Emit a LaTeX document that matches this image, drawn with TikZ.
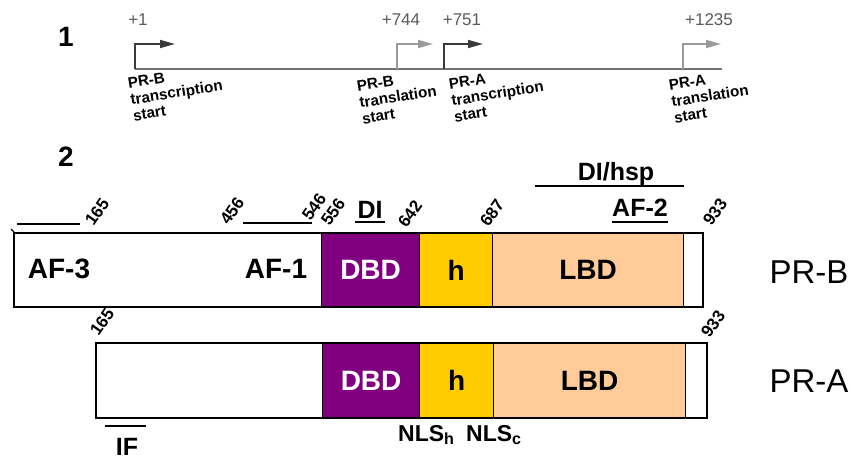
\documentclass[tikz,border=0pt]{standalone}
\usepackage{fontspec}
\setmainfont{Liberation Sans}
\usetikzlibrary{arrows.meta}
\definecolor{dbdpurple}{HTML}{800080}
\definecolor{hinge}{HTML}{FFCC00}
\definecolor{lbd}{HTML}{FFCC99}
\definecolor{darktss}{HTML}{3A3A3A}
\definecolor{lighttss}{HTML}{9A9A9A}
\definecolor{posgray}{HTML}{5A5A5A}
\tikzset{
  genome/.style={draw=lighttss!75!black, line width=2pt},
  tssdark/.style={draw=darktss, line width=1.6pt, -{Triangle[length=15pt,width=8pt]}},
  tsslight/.style={draw=lighttss, line width=1.6pt, -{Triangle[length=15pt,width=8pt]}},
  poslabel/.style={text=posgray, font=\fontsize{17}{17}\selectfont, inner sep=0pt},
  sitelabel/.style={font=\fontsize{15.2}{16.5}\selectfont\bfseries, align=left, anchor=north west, rotate=9, inner sep=0pt},
  panel/.style={font=\fontsize{28}{28}\selectfont\bfseries, inner sep=0pt},
  seg/.style={draw=black, line width=1.2pt, inner sep=0pt, anchor=north west, font=\fontsize{28}{28}\selectfont\bfseries},
  outline/.style={draw=black, line width=2.2pt},
  aa/.style={font=\fontsize{17}{17}\selectfont\bfseries, rotate=55, inner sep=0pt},
  dom/.style={font=\fontsize{28}{28}\selectfont\bfseries, inner sep=0pt},
  small/.style={font=\fontsize{25}{25}\selectfont\bfseries, inner sep=0pt},
  nls/.style={font=\fontsize{23}{23}\selectfont\bfseries, inner sep=0pt},
  isoform/.style={font=\fontsize{33}{33}\selectfont, inner sep=0pt},
  bar/.style={draw=black, line width=1.5pt}
}
\begin{document}
\begin{tikzpicture}[x=1pt,y=-1pt]
\useasboundingbox (0,0) rectangle (851,459);

% ---------- panel 1: promoter / start sites ----------
\node[panel] (p1) at (66,37) {1};
\coordinate (g0) at (135,69);
\coordinate (g1) at (722,69);
\draw[genome] (g0) -- (g1);

\coordinate (b0) at (135,69);  \coordinate (b1) at (175,44);
\coordinate (c0) at (397,69);  \coordinate (c1) at (433,44);
\coordinate (d0) at (444,69);  \coordinate (d1) at (483,44);
\coordinate (e0) at (683,69);  \coordinate (e1) at (721,44);
\draw[tssdark]  (b0) |- (b1);
\draw[tsslight] (c0) |- (c1);
\draw[tssdark]  (d0) |- (d1);
\draw[tsslight] (e0) |- (e1);

\node[poslabel] (n1)    at (138,20) {+1};
\node[poslabel] (n744)  at (401,20) {+744};
\node[poslabel] (n751)  at (462,20) {+751};
\node[poslabel] (n1235) at (709,20) {+1235};

\node[sitelabel] (l1) at (127,78) {PR-B\\transcription\\start};
\node[sitelabel] (l2) at (356,81) {PR-B\\translation\\start};
\node[sitelabel] (l3) at (448,79) {PR-A\\transcription\\start};
\node[sitelabel] (l4) at (668,80) {PR-A\\translation\\start};

% ---------- panel 2: receptor domains ----------
\node[panel] (p2) at (66,157) {2};

% PR-B
\node[seg, fill=white,      minimum width=307pt, minimum height=73pt] (bN)   at (14,233)  {};
\node[seg, fill=dbdpurple,  minimum width=98pt,  minimum height=73pt, text=white] (bDBD) at (321,233) {DBD};
\node[seg, fill=hinge,      minimum width=73pt,  minimum height=73pt] (bH)   at (419,233) {h};
\node[seg, fill=lbd,        minimum width=191pt, minimum height=73pt] (bLBD) at (492,233) {LBD};
\node[seg, fill=white,      minimum width=19pt,  minimum height=73pt] (bC)   at (683,233) {};
\draw[outline] (bN.north west) rectangle (bC.south east);
\node[dom] (af3) at (59,269) {AF-3};
\node[dom] (af1) at (276,269) {AF-1};
\node[isoform] (prb) at (809,272) {PR-B};

% PR-A
\node[seg, fill=white,      minimum width=226pt, minimum height=74pt] (aN)   at (96,343)  {};
\node[seg, fill=dbdpurple,  minimum width=97pt,  minimum height=74pt, text=white] (aDBD) at (322,343) {DBD};
\node[seg, fill=hinge,      minimum width=74pt,  minimum height=74pt] (aH)   at (419,343) {h};
\node[seg, fill=lbd,        minimum width=192pt, minimum height=74pt] (aLBD) at (493,343) {LBD};
\node[seg, fill=white,      minimum width=21pt,  minimum height=74pt] (aC)   at (685,343) {};
\draw[outline] (aN.north west) rectangle (aC.south east);
\node[isoform] (pra) at (809,381) {PR-A};

% residue numbers
\node[aa] (r165)  at (97,212)  {165};
\node[aa] (r456)  at (232,211) {456};
\node[aa] (r546)  at (314,207) {546};
\node[aa] (r556)  at (333,212) {556};
\node[aa] (r642)  at (410,214) {642};
\node[aa] (r687)  at (492,213) {687};
\node[aa] (r933)  at (715,212) {933};
\node[aa] (s165)  at (102,322) {165};
\node[aa] (s933)  at (713,324) {933};

% functional regions
\coordinate (u1) at (17,224);  \coordinate (u2) at (80,224);
\draw[bar] (u1) -- (u2);
\coordinate (k1) at (11,229);  \coordinate (k2) at (14,232);
\draw[line width=1.2pt] (k1) -- (k2);
\coordinate (v1) at (243,223); \coordinate (v2) at (312,223);
\draw[bar] (v1) -- (v2);

\node[small] (di) at (370,210) {DI};
\coordinate (w1) at (355,222); \coordinate (w2) at (385,222);
\draw[bar] (w1) -- (w2);

\node[small] (dihsp) at (616,174) {DI/hsp};
\coordinate (x1) at (535,186); \coordinate (x2) at (684,186);
\draw[bar] (x1) -- (x2);

\node[small] (af2) at (640,208) {AF-2};
\coordinate (y1) at (612,222); \coordinate (y2) at (668,222);
\draw[bar] (y1) -- (y2);

\coordinate (z1) at (105,426); \coordinate (z2) at (146,426);
\draw[bar] (z1) -- (z2);
\node[small, anchor=north] (if) at (127,438) {IF};

\node[nls, anchor=west] (nlsh) at (398,435) {NLS\textsubscript{h}};
\node[nls, anchor=west] (nlsc) at (466,435) {NLS\textsubscript{c}};
\end{tikzpicture}
\end{document}
